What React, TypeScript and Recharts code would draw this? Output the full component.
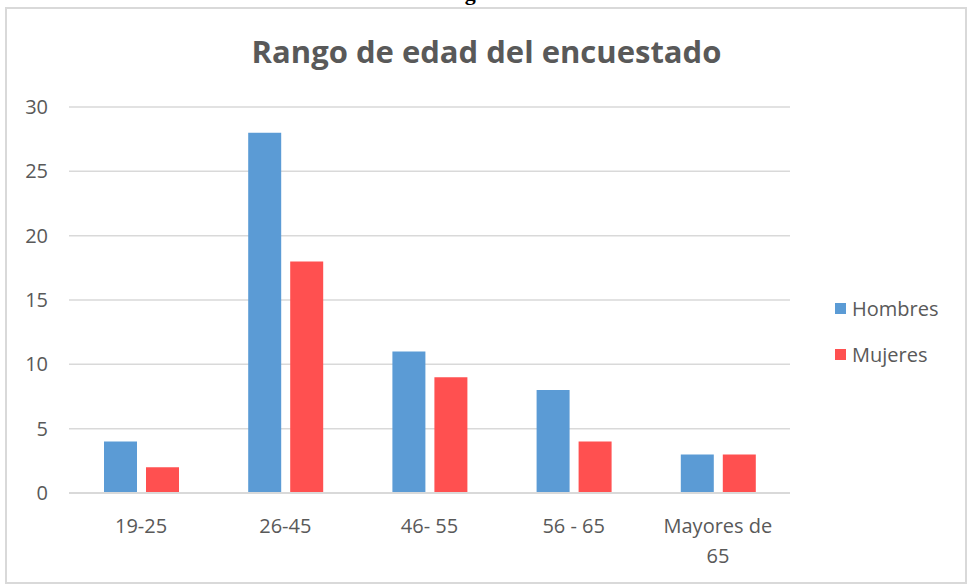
import React from "react";
import { BarChart, Bar, XAxis, YAxis, CartesianGrid } from "recharts";

const categories = ["19-25", "26-45", "46- 55", "56 - 65", "Mayores de 65"];
const hombres = [4, 28, 11, 8, 3];
const mujeres = [2, 18, 9, 4, 3];
const yTicks = [0, 5, 10, 15, 20, 25, 30];

const data = categories.map((c, i) => ({
  rango: c,
  Hombres: hombres[i],
  Mujeres: mujeres[i],
}));

const BLUE = "#5B9BD5";
const RED = "#FF5050";
const TEXT = "#595959";
const FONT = "'Open Sans', 'Noto Sans', sans-serif";

const series = [
  { name: "Hombres", color: BLUE },
  { name: "Mujeres", color: RED },
];

const CategoryTick = (props: any) => {
  const { x, y, payload } = props;
  const label: string = payload.value;
  let lines = [label];
  if (label.length > 10) {
    const cut = label.lastIndexOf(" ");
    lines = [label.slice(0, cut), label.slice(cut + 1)];
  }
  return (
    <text
      x={x}
      y={y}
      textAnchor="middle"
      fill={TEXT}
      fontSize={20}
      fontFamily={FONT}
    >
      {lines.map((l, i) => (
        <tspan key={i} x={x} dy={i === 0 ? 32 : 30}>
          {l}
        </tspan>
      ))}
    </text>
  );
};

export default function App() {
  return (
    <div
      style={{
        position: "absolute",
        left: 0,
        top: 0,
        width: 969,
        height: 587,
        overflow: "hidden",
        background: "#fff",
      }}
    >
      <div
        style={{
          position: "absolute",
          left: 0,
          width: 1000,
          top: -20,
          textAlign: "center",
          fontFamily: "'Liberation Serif', serif",
          fontWeight: "bold",
          fontSize: 22,
          color: "#000",
        }}
      >
        Tabulación 8: Rango de edad del encuestado
      </div>
      <div
        style={{
          position: "absolute",
          left: 5,
          top: 7,
          width: 958,
          height: 573,
          border: "2px solid #d9d9d9",
        }}
      />
      <div
        style={{
          position: "absolute",
          left: 0,
          width: 973,
          top: 30,
          textAlign: "center",
          fontFamily: FONT,
          fontWeight: "bold",
          fontSize: 31,
          color: TEXT,
        }}
      >
        Rango de edad del encuestado
      </div>
      <div
        style={{
          position: "absolute",
          left: 835,
          top: 285,
          fontFamily: FONT,
          fontSize: 20,
          color: TEXT,
        }}
      >
        {series.map((s) => (
          <div
            key={s.name}
            style={{ display: "flex", alignItems: "center", height: 46 }}
          >
            <span
              style={{
                width: 11,
                height: 11,
                background: s.color,
                display: "inline-block",
                marginRight: 6,
              }}
            />
            {s.name}
          </div>
        ))}
      </div>
      <div style={{ position: "absolute", left: 0, top: 0 }}>
        <BarChart
          width={969}
          height={587}
          data={data}
          margin={{ top: 107, right: 179, bottom: 34, left: 0 }}
          barGap={9}
          barCategoryGap={35}
        >
          <CartesianGrid vertical={false} stroke="#d9d9d9" strokeWidth={1.5} />
          <XAxis
            dataKey="rango"
            height={60}
            axisLine={{ stroke: "#d9d9d9", strokeWidth: 2 }}
            tickLine={false}
            tick={<CategoryTick />}
            interval={0}
          />
          <YAxis
            width={69}
            domain={[0, 30]}
            ticks={yTicks}
            axisLine={false}
            tickLine={false}
            tickMargin={15}
            tick={{ fill: TEXT, fontSize: 20, fontFamily: FONT }}
          />
          <Bar dataKey="Hombres" fill={BLUE} isAnimationActive={false} />
          <Bar dataKey="Mujeres" fill={RED} isAnimationActive={false} />
        </BarChart>
      </div>
    </div>
  );
}
